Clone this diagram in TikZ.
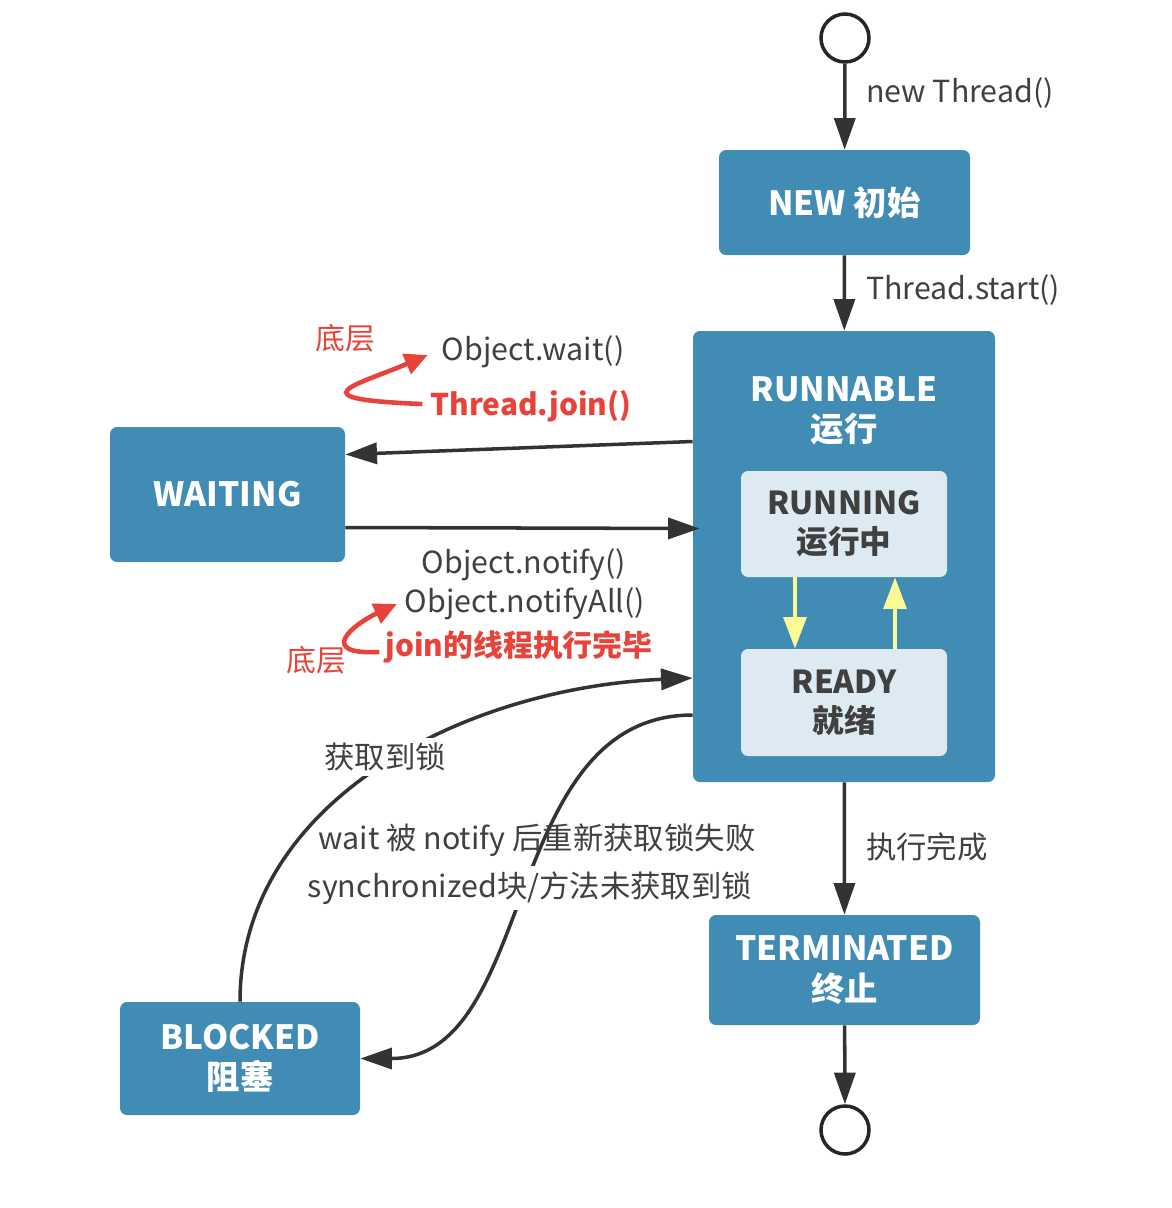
\documentclass[tikz,border=0pt]{standalone}
\usepackage{fontspec}
\setmainfont{Noto Sans CJK SC}
\usepackage{tikz}
\usetikzlibrary{arrows.meta, positioning, calc}
\definecolor{stateblue}{RGB}{64,140,181}
\definecolor{substate}{RGB}{222,234,242}
\definecolor{inkgray}{RGB}{64,64,64}
\definecolor{notered}{RGB}{232,67,58}
\definecolor{hintyellow}{RGB}{250,250,150}
\tikzset{
    % states
    statebox/.style={rectangle, rounded corners=4pt, fill=stateblue, text=white,
                align=center, font=\fontsize{19}{23}\selectfont\bfseries},
    subbox/.style={rectangle, rounded corners=4pt, fill=substate, text=inkgray,
                minimum width=206*0.02cm, align=center,
                font=\fontsize{18}{22}\selectfont\bfseries},
    endpoint/.style={circle, draw=black!85, line width=2pt, minimum size=48*0.02cm, inner sep=0pt},
    % connectors
    sarrow/.style={-{Triangle[length=18pt, width=12pt]}, line width=2pt, black!80},
    yarrow/.style={-{Triangle[length=18pt, width=13pt]}, line width=2.2pt, hintyellow},
    rarrow/.style={-{Triangle[length=13pt, width=12pt]}, line width=2.6pt, notered},
    % labels
    elabel/.style={font=\fontsize{17.3}{22}\selectfont, text=inkgray, inner sep=1pt},
    rlabel/.style={font=\fontsize{17}{22}\selectfont\bfseries, text=notered, inner sep=1pt},
    rnote/.style={font=\fontsize{17}{22}\selectfont, text=notered, inner sep=1pt},
}
\begin{document}
\begin{tikzpicture}[x=0.02cm, y=-0.02cm]
\useasboundingbox (0,0) rectangle (1172,1208);

\node[endpoint] (start) at (845,38) {};
\node[statebox, minimum width=251*0.02cm, minimum height=105*0.02cm] (new) at (844.5,202.5) {NEW 初始};
\node[statebox, minimum width=302*0.02cm, minimum height=451*0.02cm] (runnable) at (844,556.5) {};
\node[statebox] (runnablelbl) at (844,411) {RUNNABLE\\运行};
\node[subbox, minimum height=106*0.02cm] (running) at (844,524) {RUNNING\\运行中};
\node[subbox, minimum height=107*0.02cm] (ready) at (844,702.5) {READY\\就绪};
\node[statebox, minimum width=235*0.02cm, minimum height=135*0.02cm] (waiting) at (227.5,494.5) {WAITING};
\node[statebox, minimum width=240*0.02cm, minimum height=113*0.02cm] (blocked) at (240,1058.5) {BLOCKED\\阻塞};
\node[statebox, minimum width=271*0.02cm, minimum height=110*0.02cm] (terminated) at (844.5,970) {TERMINATED\\终止};
\node[endpoint] (finish) at (845,1130) {};

% main line
\draw[sarrow] (start) -- (new);
\draw[sarrow] (new) -- (runnable);
\draw[sarrow] (runnable) -- (terminated);
\draw[sarrow] (terminated) -- (finish);
\node[elabel, anchor=west] at (864,93) {new Thread()};
\node[elabel, anchor=west] at (864,290) {Thread.start()};
\node[elabel, anchor=west] at (864,847) {执行完成};

% running <-> ready
\draw[yarrow] (running.south -| 795,0) -- (ready.north -| 795,0);
\draw[yarrow] (ready.north -| 895,0) -- (running.south -| 895,0);

% waiting
\draw[sarrow] ($(runnable.west)+(0,-115)$) -- ($(waiting.east)+(0,-40)$);
\draw[sarrow] ($(waiting.east)+(0,33)$) -- ($(runnable.west)+(7,-28)$);
\node[elabel] (waitlbl) at (533,352) {Object.wait()};
\node[rlabel] (joinlbl) at (531,406) {Thread.join()};
\node[rnote] at (345,338) {底层};
\draw[rarrow] ($(joinlbl.west)+(-6,-2)$) .. controls +(-130,-5) and +(-70,30) .. ($(waitlbl.west)+(-12,3)$);
\node[elabel] (notifylbl) at (524,565) {Object.notify()};
\node[elabel] (notifyalllbl) at (525,604) {Object.notifyAll()};
\node[rlabel] (joindonelbl) at (519,647) {join的线程执行完毕};
\node[rnote] at (316,660) {底层};
\draw[rarrow] ($(joindonelbl.west)+(-4,5)$) .. controls +(-63,3) and +(-45,21) .. ($(notifyalllbl.west)+(-6,0)$);

% blocked
\draw[sarrow] (blocked.north) .. controls +(0,-200) and +(-230,10) .. ($(runnable.west)+(0,121.5)$);
\node[elabel, fill=white, inner sep=3pt] at (385,757) {获取到锁};
\draw[sarrow] ($(runnable.west)+(0,158.5)$) .. controls +(-193,0) and +(178,0) .. (blocked.east);
\node[elabel] at (537,840) {wait 被 notify 后重新获取锁失败};
\node[elabel, fill=white, inner sep=3pt] at (530,888) {synchronized块/方法未获取到锁};
\end{tikzpicture}
\end{document}
